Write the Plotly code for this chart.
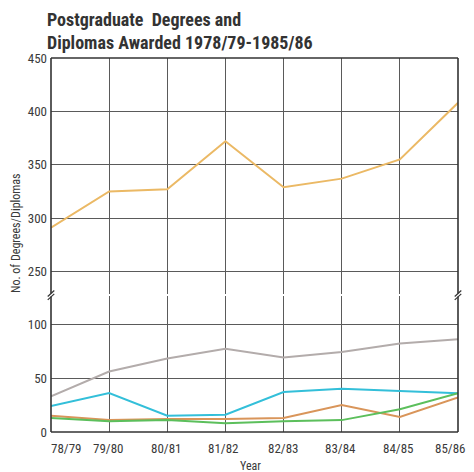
import plotly.graph_objects as go

years = ["78/79", "79/80", "80/81", "81/82", "82/83", "83/84", "84/85", "85/86"]
total = [291, 325, 327, 372, 329, 337, 355, 408]
gray_series = [33, 56, 68, 77, 69, 74, 82, 86]
cyan_series = [24, 36, 15, 16, 37, 40, 38, 36]
orange_series = [15, 11, 12, 12, 13, 25, 14, 32]
green_series = [13, 10, 11, 8, 10, 11, 21, 36]

upper_ticks = [250, 300, 350, 400, 450]
lower_ticks = [0, 50, 100]
# horizontal nudges (px) of the printed year labels, as in the original
label_nudge = [15, -1, -1, -2, 0, -1, -1, -8]

FONT = "Liberation Sans Narrow, Roboto Condensed, Arial Narrow, Liberation Sans, sans-serif"
TXT = "#3a3a3a"

fig = go.Figure()
fig.add_trace(go.Scatter(x=years, y=total, mode="lines", xaxis="x2", yaxis="y2",
                         line=dict(color="#ebb965", width=2)))
fig.add_trace(go.Scatter(x=years, y=gray_series, mode="lines",
                         line=dict(color="#b3acab", width=2)))
fig.add_trace(go.Scatter(x=years, y=cyan_series, mode="lines",
                         line=dict(color="#33bfd9", width=2)))
fig.add_trace(go.Scatter(x=years, y=orange_series, mode="lines",
                         line=dict(color="#d9955a", width=2)))
fig.add_trace(go.Scatter(x=years, y=green_series, mode="lines",
                         line=dict(color="#5cbf5c", width=2)))

lo_dom = [0, 0.3623]
up_dom = [0.3703, 1]
grid = "#5a5a5a"

fig.update_layout(
    width=466, height=464,
    margin=dict(l=43, r=16, t=50, b=40),
    paper_bgcolor="white", plot_bgcolor="white",
    showlegend=False,
    font=dict(family=FONT, size=12, color=TXT),
    xaxis=dict(type="category", range=[0, 7], anchor="y", domain=[0, 1],
               showgrid=True, gridcolor=grid, gridwidth=1.2, automargin=False,
               showticklabels=False, ticks="", zeroline=False),
    xaxis2=dict(type="category", range=[0, 7], anchor="y2", domain=[0, 1], matches="x",
                showgrid=True, gridcolor=grid, gridwidth=1.2, showticklabels=False,
                automargin=False, ticks="", zeroline=False),
    yaxis=dict(domain=lo_dom, range=[0, 125.5], tickvals=lower_ticks, automargin=False,
               showgrid=True, gridcolor=grid, gridwidth=1.2, zeroline=False,
               tickfont=dict(size=13, color=TXT), ticks="", ticklabelstandoff=3),
    yaxis2=dict(domain=up_dom, range=[229.4, 450], tickvals=upper_ticks, automargin=False,
                showgrid=True, gridcolor=grid, gridwidth=1.2, zeroline=False,
                tickfont=dict(size=13, color=TXT), ticks="", ticklabelstandoff=3),
)

for lab, nud in zip(years, label_nudge):
    fig.add_annotation(text=lab, x=lab, xref="x", y=0, yref="paper", yshift=-7, xshift=nud,
                       xanchor="center", yanchor="top", showarrow=False,
                       font=dict(size=13, color=TXT, family=FONT))
fig.add_annotation(text="Year", xref="paper", yref="paper", x=0.49, y=0, yshift=-25,
                   xanchor="center", yanchor="top", showarrow=False,
                   font=dict(size=12, color=TXT, family=FONT))

# frame
frame = dict(color="#333333", width=1.6)
shapes = [
    dict(type="line", xref="paper", yref="paper", x0=0, x1=1, y0=0, y1=0, line=frame),
    dict(type="line", xref="paper", yref="paper", x0=0, x1=1, y0=1, y1=1, line=frame),
    dict(type="line", xref="paper", yref="paper", x0=0, x1=0, y0=0, y1=lo_dom[1], line=frame),
    dict(type="line", xref="paper", yref="paper", x0=0, x1=0, y0=up_dom[0], y1=1, line=frame),
    dict(type="line", xref="paper", yref="paper", x0=1, x1=1, y0=0, y1=lo_dom[1], line=frame),
    dict(type="line", xref="paper", yref="paper", x0=1, x1=1, y0=up_dom[0], y1=1, line=frame),
]
for xe in (0, 1):
    for dy in (-0.005, 0.004):
        shapes.append(dict(type="line", xref="paper", yref="paper",
                           x0=xe - 0.008, x1=xe + 0.008,
                           y0=0.3663 + dy - 0.008, y1=0.3663 + dy + 0.008,
                           line=dict(color="#333333", width=1.2)))
fig.update_layout(shapes=shapes)

fig.add_annotation(text="<b>Postgraduate  Degrees and<br>Diplomas Awarded 1978/79-1985/86</b>",
                   xref="paper", yref="paper", x=0, xshift=-6, y=1.0, yshift=3,
                   xanchor="left", yanchor="bottom", align="left", showarrow=False,
                   font=dict(size=18, color="#333333", family=FONT))
fig.add_annotation(text="No. of Degrees/Diplomas", textangle=-90,
                   xref="paper", yref="paper", x=0, xshift=-35, y=0.532,
                   xanchor="center", yanchor="middle", showarrow=False,
                   font=dict(size=12, color=TXT, family=FONT))

fig.write_html("out.html")
